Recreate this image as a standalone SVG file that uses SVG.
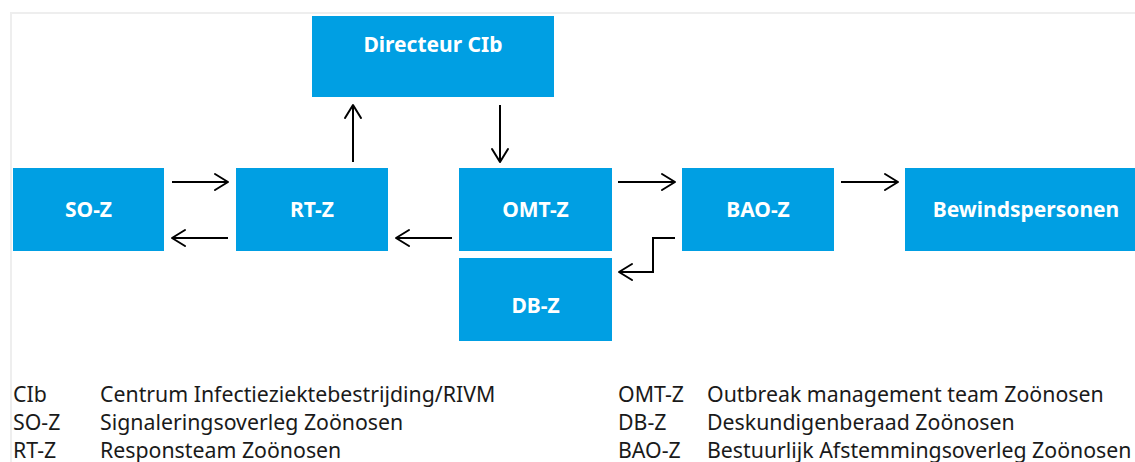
<svg xmlns="http://www.w3.org/2000/svg" width="1135" height="462" viewBox="0 0 1135 462">
<style>
.box{fill:#009fe3;}
.lbl{font-family:"Noto Sans","Open Sans",sans-serif;font-weight:bold;font-size:21px;fill:#ffffff;text-anchor:middle;}
.leg{font-family:"Noto Sans","Open Sans",sans-serif;font-size:21.3px;fill:#1a1a1a;}
.con{fill:none;stroke:#000;stroke-width:2;marker-end:url(#arr);}
.frame{fill:none;stroke:#eeeeee;stroke-width:2;}
</style>
<defs>
<marker id="arr" markerUnits="userSpaceOnUse" viewBox="-16 -10 18 20" refX="0" refY="0" markerWidth="18" markerHeight="20" orient="auto">
<path d="M-13,-8 L0,0 L-13,8" fill="none" stroke="#000" stroke-width="2" stroke-linejoin="round" stroke-linecap="round"/>
</marker>
</defs>
<rect width="1135" height="462" fill="#ffffff"/>
<path class="frame" d="M11,462 L11,13 L1135,13"/>
<g id="directeur-cib"><rect class="box" x="312" y="16" width="242" height="81"/><text class="lbl" x="433" y="52">Directeur CIb</text></g>
<g id="so-z"><rect class="box" x="13" y="168" width="151" height="83"/><text class="lbl" x="88.5" y="217">SO-Z</text></g>
<g id="rt-z"><rect class="box" x="236" y="168" width="152" height="83"/><text class="lbl" x="312" y="217">RT-Z</text></g>
<g id="omt-z"><rect class="box" x="459" y="168" width="153" height="83"/><text class="lbl" x="535.5" y="217">OMT-Z</text></g>
<g id="bao-z"><rect class="box" x="682" y="168" width="152" height="83"/><text class="lbl" x="758" y="217">BAO-Z</text></g>
<g id="bewindspersonen"><rect class="box" x="905" y="168" width="230" height="83"/><text class="lbl" x="1026" y="217">Bewindspersonen</text></g>
<g id="db-z"><rect class="box" x="459" y="258" width="153" height="83"/><text class="lbl" x="535.5" y="313">DB-Z</text></g>
<g id="connectors">
<path class="con" d="M172,182 L228,182"/>
<path class="con" d="M228,238 L172,238"/>
<path class="con" d="M452,238 L396,238"/>
<path class="con" d="M353,162 L353,105"/>
<path class="con" d="M500,105 L500,162"/>
<path class="con" d="M618,182 L675,182"/>
<path class="con" d="M841,182 L898,182"/>
<path class="con" d="M675,238 L653,238 L653,272 L619,272"/>
</g>
<g id="legend">
<text class="leg" x="13" y="402">CIb</text>
<text class="leg" x="100" y="402">Centrum Infectieziektebestrijding/RIVM</text>
<text class="leg" x="13" y="430">SO-Z</text>
<text class="leg" x="100" y="430">Signaleringsoverleg Zoönosen</text>
<text class="leg" x="13" y="458">RT-Z</text>
<text class="leg" x="100" y="458">Responsteam Zoönosen</text>
<text class="leg" x="618" y="402">OMT-Z</text>
<text class="leg" x="707" y="402">Outbreak management team Zoönosen</text>
<text class="leg" x="618" y="430">DB-Z</text>
<text class="leg" x="707" y="430">Deskundigenberaad Zoönosen</text>
<text class="leg" x="618" y="458">BAO-Z</text>
<text class="leg" x="707" y="458">Bestuurlijk Afstemmingsoverleg Zoönosen</text>
</g>
</svg>
